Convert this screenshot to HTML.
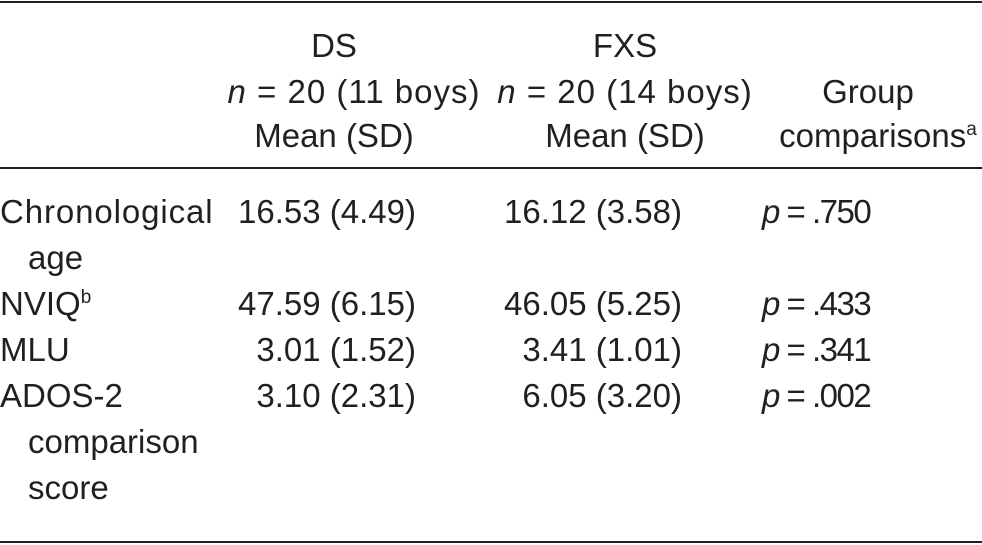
<!DOCTYPE html>
<html><head><meta charset="utf-8"><style>
html,body{margin:0;padding:0;background:#fff;}
body{width:982px;height:545px;position:relative;overflow:hidden;font-family:"Liberation Sans",sans-serif;font-size:33px;color:#231f20;}
.t{position:absolute;white-space:nowrap;line-height:40px;}
.c{transform:translateX(-50%);}
.r{transform:translateX(-100%);}
.rule{position:absolute;left:0;width:982px;background:#231f20;}
i{font-style:italic;}
sup{font-size:19px;line-height:0;}
.p{letter-spacing:-1.5px;}
</style></head><body>
<div class="rule" style="top:1px;height:2px"></div>
<div class="rule" style="top:167px;height:2px"></div>
<div class="rule" style="top:541px;height:2px"></div>

<div class="t c" style="left:334px;top:26px">DS</div>
<div class="t c" style="left:354px;top:72px;letter-spacing:1px"><i>n</i> = 20 (11 boys)</div>
<div class="t c" style="left:334px;top:116px">Mean (SD)</div>
<div class="t c" style="left:625px;top:26px">FXS</div>
<div class="t c" style="left:625px;top:72px;letter-spacing:1px"><i>n</i> = 20 (14 boys)</div>
<div class="t c" style="left:625px;top:116px">Mean (SD)</div>
<div class="t c" style="left:868px;top:72px">Group</div>
<div class="t c" style="left:878px;top:116px">comparisons<sup>a</sup></div>

<div class="t" style="left:0;top:192px;letter-spacing:0.9px">Chronological</div>
<div class="t" style="left:28px;top:238px">age</div>
<div class="t" style="left:0;top:284px">NVIQ<sup>b</sup></div>
<div class="t" style="left:0;top:330px">MLU</div>
<div class="t" style="left:0;top:376px">ADOS-2</div>
<div class="t" style="left:28px;top:422px">comparison</div>
<div class="t" style="left:28px;top:468px">score</div>

<div class="t r" style="left:416px;top:192px">16.53 (4.49)</div>
<div class="t r" style="left:416px;top:284px">47.59 (6.15)</div>
<div class="t r" style="left:416px;top:330px">3.01 (1.52)</div>
<div class="t r" style="left:416px;top:376px">3.10 (2.31)</div>

<div class="t r" style="left:682px;top:192px">16.12 (3.58)</div>
<div class="t r" style="left:682px;top:284px">46.05 (5.25)</div>
<div class="t r" style="left:682px;top:330px">3.41 (1.01)</div>
<div class="t r" style="left:682px;top:376px">6.05 (3.20)</div>

<div class="t p" style="left:762px;top:192px"><i>p</i> = .750</div>
<div class="t p" style="left:762px;top:284px"><i>p</i> = .433</div>
<div class="t p" style="left:762px;top:330px"><i>p</i> = .341</div>
<div class="t p" style="left:762px;top:376px"><i>p</i> = .002</div>
</body></html>
